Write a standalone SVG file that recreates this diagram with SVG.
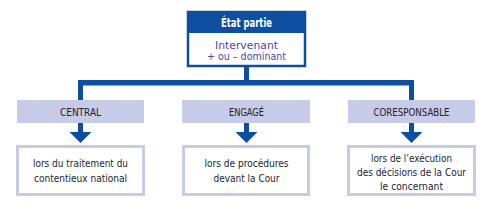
<svg xmlns="http://www.w3.org/2000/svg" width="494" height="210" viewBox="0 0 494 210">
<defs>
<style>
text{font-family:"Liberation Sans Narrow","DejaVu Sans Condensed","Liberation Sans",sans-serif;text-anchor:middle}
.blue{fill:#0d4ea0}
.lab{fill:#c8cbe7}
.lt{font-size:11px;fill:#22222e}
.bt{font-size:11px;fill:#22222e}
.box{fill:#fff;stroke:#c8cbe7;stroke-width:3}
</style>
</defs>
<g id="connectors" fill="#0d4ea0">
<rect x="244" y="66" width="5" height="17"/>
<rect x="78" y="80" width="336" height="5.5"/>
<rect x="78" y="80" width="5" height="20"/>
<rect x="409" y="80" width="5" height="20"/>
<rect x="78" y="123" width="5" height="10"/>
<rect x="244" y="123" width="5" height="10"/>
<rect x="409" y="123" width="5" height="10"/>
<path d="M69.5,132 H91.5 L80.5,143 Z"/>
<path d="M235.5,132 H257.5 L246.5,143 Z"/>
<path d="M400.5,132 H422.5 L411.5,143 Z"/>
</g>
<g id="etat">
<rect x="188" y="12" width="117" height="54" fill="#fff" stroke="#0d4ea0" stroke-width="2.5"/>
<rect x="188" y="12" width="117" height="21" class="blue"/>
<text x="246.5" y="27" textLength="51" lengthAdjust="spacingAndGlyphs" style="font-size:12px;font-weight:bold;fill:#fff">État partie</text>
<text x="246.5" y="48.5" textLength="63" lengthAdjust="spacingAndGlyphs" style="font-size:10.5px;fill:#5046a8">Intervenant</text>
<text x="246.5" y="60" textLength="79" lengthAdjust="spacingAndGlyphs" style="font-size:10.5px;fill:#5046a8">+ ou – dominant</text>
</g>
<g id="central">
<rect x="17" y="100" width="127" height="23" class="lab"/>
<text x="80.5" y="116" textLength="41" lengthAdjust="spacingAndGlyphs" class="lt">CENTRAL</text>
</g>
<g id="engage">
<rect x="182" y="100" width="128" height="23" class="lab"/>
<text x="246.5" y="116" textLength="35" lengthAdjust="spacingAndGlyphs" class="lt">ENGAGÉ</text>
</g>
<g id="coresponsable">
<rect x="348" y="100" width="127" height="23" class="lab"/>
<text x="411.5" y="116" textLength="76" lengthAdjust="spacingAndGlyphs" class="lt">CORESPONSABLE</text>
</g>
<g id="traitement">
<rect x="17.5" y="146.5" width="126" height="48" class="box"/>
<text x="80.5" y="167" textLength="95" lengthAdjust="spacingAndGlyphs" class="bt">lors du traitement du</text>
<text x="80.5" y="182" textLength="93" lengthAdjust="spacingAndGlyphs" class="bt">contentieux national</text>
</g>
<g id="procedures">
<rect x="183.5" y="146.5" width="125" height="48" class="box"/>
<text x="246.5" y="167" textLength="84" lengthAdjust="spacingAndGlyphs" class="bt">lors de procédures</text>
<text x="246.5" y="182" textLength="66" lengthAdjust="spacingAndGlyphs" class="bt">devant la Cour</text>
</g>
<g id="execution">
<rect x="348.5" y="146.5" width="126" height="48" class="box"/>
<text x="411.5" y="162" textLength="81" lengthAdjust="spacingAndGlyphs" class="bt">lors de l’exécution</text>
<text x="411.5" y="176" textLength="109" lengthAdjust="spacingAndGlyphs" class="bt">des décisions de la Cour</text>
<text x="411.5" y="190" textLength="63" lengthAdjust="spacingAndGlyphs" class="bt">le concernant</text>
</g>
</svg>
